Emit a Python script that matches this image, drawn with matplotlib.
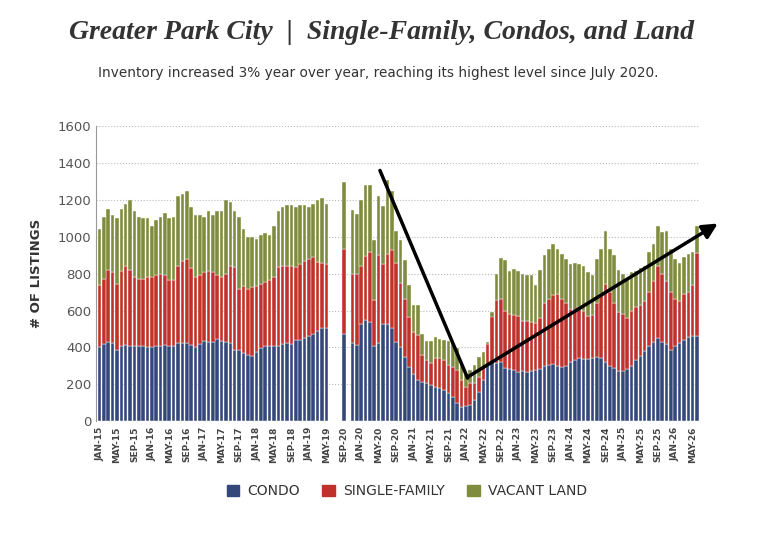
import numpy as np
import matplotlib
matplotlib.use("Agg")
import matplotlib.pyplot as plt
from matplotlib.patches import Patch

nan = np.nan
# block 1: Jan-15 .. May-19 (idx 0..52)
b1_total = [1040,1110,1150,1120,1100,1150,1180,1200,1140,1110,
            1100,1100,1060,1090,1110,1130,1100,1110,1220,1230,
            1250,1160,1120,1120,1110,1140,1120,1140,1140,1200,
            1190,1140,1110,1040,1000,1000,990,1010,1020,1010,
            1060,1140,1160,1170,1170,1160,1170,1170,1160,1180,
            1200,1210,1180]
b1_red = [740,770,820,808,744,817,844,820,781,772,
          772,784,784,795,799,795,763,766,844,871,
          880,831,784,795,808,817,808,795,781,800,
          844,835,717,735,717,726,735,744,753,763,
          784,838,844,844,844,835,853,871,880,889,
          862,860,855]
b1_condo = [400,420,430,425,385,410,415,410,405,405,
            405,400,400,410,410,415,410,405,425,425,
            425,415,400,420,435,430,430,445,435,430,
            425,385,385,370,360,355,375,395,405,410,
            405,410,420,425,420,440,440,450,460,475,
            490,505,505]
# idx 53..57: gap, single bar at 56
gap_total = [nan, nan, nan, 1300, nan]
gap_red = [nan, nan, nan, 935, nan]
gap_condo = [nan, nan, nan, 470, nan]
# idx 58..91
b2_total = [1144,1126,1202,1279,1279,982,1220,1166,1310,1248,
            1032,982,873,738,629,629,475,435,435,457,
            448,442,435,421,394,313,258,276,303,348,
            376,430,566,797]
b2_red = [800,800,840,894,918,656,900,855,909,927,
          858,750,665,566,484,466,358,331,316,340,
          340,331,303,294,276,222,186,204,204,240,
          294,420,592,659]
b2_condo = [421,412,529,547,540,406,424,529,525,507,
            430,403,349,294,255,222,213,204,195,186,
            177,168,150,132,96,74,81,87,114,159,
            222,303,321,316]
# idx 92..137: Sep-22 .. Jun-26
b3_total = [885,875,815,825,
            815,800,790,790,740,820,900,935,960,935,905,880,
            850,860,850,840,810,790,880,935,1030,935,900,820,
            800,770,810,815,830,840,920,960,1060,1025,1030,935,
            880,860,890,905,920,1060]
b3_red = [660,600,580,575,
          570,545,545,540,530,560,640,665,685,690,665,640,
          610,600,620,600,570,575,640,690,745,700,640,590,
          580,560,600,620,630,650,700,760,840,800,760,700,
          660,650,690,700,740,910]
b3_condo = [320,290,285,275,
            265,270,265,270,275,285,300,305,310,300,295,300,
            320,330,340,335,335,340,350,340,320,300,290,270,
            270,285,300,330,355,380,410,430,450,430,420,385,
            410,425,440,455,460,460]

total = np.array(b1_total + gap_total + b2_total + b3_total, float)
red_top = np.array(b1_red + gap_red + b2_red + b3_red, float)
condo = np.array(b1_condo + gap_condo + b2_condo + b3_condo, float)
single_family = red_top - condo
vacant = total - red_top
x = np.arange(len(total))

tick_labels = ["JAN-15","MAY-15","SEP-15","JAN-16","MAY-16","SEP-16","JAN-17","MAY-17",
               "SEP-17","JAN-18","MAY-18","SEP-18","JAN-19","MAY-19","SEP-20","JAN-20",
               "MAY-20","SEP-20","JAN-21","MAY-21","SEP-21","JAN-22","MAY-22","SEP-22",
               "JAN-23","MAY-23","SEP-23","JAN-24","MAY-24","SEP-24","JAN-25","MAY-25",
               "SEP-25","JAN-26","MAY-26"]

c_condo = "#33477a"
c_sf = "#c1312c"
c_land = "#7f8b3d"

fig = plt.figure(figsize=(7.68, 5.35), dpi=100)
ax = fig.add_axes([0.125, 0.213, 0.786, 0.551])
kw = dict(width=0.82, edgecolor="white", linewidth=0.3)
ax.bar(x, condo, color=c_condo, **kw)
ax.bar(x, single_family, bottom=condo, color=c_sf, **kw)
ax.bar(x, vacant, bottom=red_top, color=c_land, **kw)

ax.set_xlim(-0.8, 137.6)
ax.set_ylim(0, 1600)
ax.set_yticks(range(0, 1601, 200))
ax.yaxis.grid(True, linestyle=":", color="#bbbbbb", linewidth=0.8)
ax.set_axisbelow(True)
ax.set_xticks(np.arange(0, 137, 4))
ax.set_xticklabels(tick_labels, rotation=90, fontsize=6.5, color="#444444",
                   fontfamily="Liberation Sans Narrow", fontweight="bold")
ax.tick_params(axis="x", length=0, pad=4)
ax.tick_params(axis="y", length=0, labelsize=9.5, labelcolor="#555555")
for s in ["top", "right", "bottom"]:
    ax.spines[s].set_visible(False)
ax.spines["left"].set_color("#999999")
ax.set_ylabel("# OF LISTINGS", fontsize=9.5, fontweight="bold", color="#333333", labelpad=10)

# arrows
ax.plot([64.3, 84.4], [1360, 233], color="black", lw=2.5, solid_capstyle="round", clip_on=False)
ax.annotate("", xy=(142.3, 1080), xytext=(84.0, 233),
            arrowprops=dict(arrowstyle="-|>,head_length=0.9,head_width=0.45", color="black", lw=2.5),
            annotation_clip=False)

fig.text(0.497, 0.94, "Greater Park City  |  Single-Family, Condos, and Land",
         ha="center", va="center", fontsize=20, fontstyle="italic", fontweight="bold",
         family="Liberation Serif", color="#333333")
fig.text(0.492, 0.863, "Inventory increased 3% year over year, reaching its highest level since July 2020.",
         ha="center", va="center", fontsize=9.8, color="#333333")

handles = [Patch(color=c_condo, label="CONDO"), Patch(color=c_sf, label="SINGLE-FAMILY"),
           Patch(color=c_land, label="VACANT LAND")]
fig.legend(handles=handles, loc="center", bbox_to_anchor=(0.53, 0.082), ncol=3, frameon=False,
           fontsize=10, handlelength=0.9, handleheight=0.9, columnspacing=1.6, handletextpad=0.6,
           labelcolor="#333333")
fig.savefig("out.png", dpi=100)
